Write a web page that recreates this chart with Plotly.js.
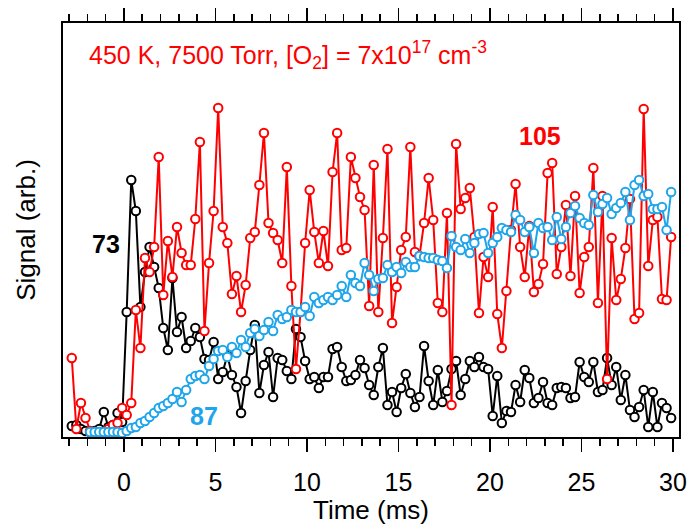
<!DOCTYPE html>
<html>
<head>
<meta charset="utf-8">
<script src="https://cdn.plot.ly/plotly-3.0.1.min.js"></script>
<style>html,body{margin:0;padding:0;background:#fff;}#chart{width:691px;height:525px;}</style>
</head>
<body>
<div id="chart"></div>
<script>
// Time axis (ms), shared by the three mass channels
const time = [
 -2.85,-2.6,-2.35,-2.1,-1.85,-1.6,-1.35,-1.1,-0.85,-0.6,
 -0.35,-0.1,0.15,0.4,0.65,0.9,1.15,1.4,1.65,1.9,
 2.15,2.4,2.65,2.9,3.15,3.4,3.65,3.9,4.15,4.4,
 4.65,4.9,5.15,5.4,5.65,5.9,6.15,6.4,6.65,6.9,
 7.15,7.4,7.65,7.9,8.15,8.4,8.65,8.9,9.15,9.4,
 9.65,9.9,10.15,10.4,10.65,10.9,11.15,11.4,11.65,11.9,
 12.15,12.4,12.65,12.9,13.15,13.4,13.65,13.9,14.15,14.4,
 14.65,14.9,15.15,15.4,15.65,15.9,16.15,16.4,16.65,16.9,
 17.15,17.4,17.65,17.9,18.15,18.4,18.65,18.9,19.15,19.4,
 19.65,19.9,20.15,20.4,20.65,20.9,21.15,21.4,21.65,21.9,
 22.15,22.4,22.65,22.9,23.15,23.4,23.65,23.9,24.15,24.4,
 24.65,24.9,25.15,25.4,25.65,25.9,26.15,26.4,26.65,26.9,
 27.15,27.4,27.65,27.9,28.15,28.4,28.65,28.9,29.15,29.4,
 29.65,29.9
];

// m/z 73 (black)
const signal73 = [
 11,12,8,6,5,6,8,25,10,12,
 24,15,125,257,226,130,165,190,170,149,
 109,87,159,105,120,89,96,109,100,78,
 77,95,58,65,82,62,50,24,56,87,
 112,44,72,85,40,79,77,66,58,108,
 100,76,58,60,49,60,60,88,90,70,
 56,57,62,77,69,52,42,70,89,32,
 45,25,49,63,44,30,40,91,56,32,
 67,35,46,68,76,42,58,76,70,80,
 70,68,21,61,14,26,25,52,35,67,
 59,34,39,55,34,32,49,50,49,39,
 40,75,60,55,75,45,47,79,52,70,
 37,62,27,20,30,47,10,45,10,34,
 29,19
];

// m/z 105 (red)
const signal105 = [
 79,8,34,19,6,5,4,5,8,12,
 14,29,22,34,127,89,179,165,190,280,
 142,196,160,210,184,172,172,218,295,106,
 174,226,329,210,194,143,161,125,152,199,
 205,252,304,214,204,197,174,270,151,68,
 125,194,247,205,174,206,171,265,304,187,
 189,280,259,240,227,131,272,125,199,288,
 114,150,187,200,290,185,181,214,259,217,
 134,125,224,32,293,228,239,249,200,124,
 180,160,230,123,89,146,207,253,190,160,
 211,145,153,173,264,274,163,190,232,161,
 241,144,180,190,269,134,241,58,199,137,
 158,189,238,118,124,328,171,217,220,138,
 137,200
];

// m/z 87 (blue)
const signal87 = [
 null,null,null,null,5,5,5,5,5,5,
 5,4,6,9,10,14,16,20,24,29,
 31,34,38,45,35,47,58,61,62,58,
 71,78,86,87,80,90,84,97,90,104,
 108,101,107,115,106,122,118,120,127,125,
 125,130,121,140,134,137,140,137,142,151,
 140,162,154,151,174,162,146,158,159,172,
 165,170,164,175,170,170,181,180,179,179,
 177,176,169,201,190,187,198,184,194,203,
 204,184,194,200,209,207,205,222,217,205,
 210,184,214,209,210,197,220,198,210,224,
 231,219,214,212,242,225,233,239,223,229,
 234,245,217,252,257,241,243,228,228,230,
 207,245
];

const seriesNames = ["73", "105", "87"];
const seriesColors = ["#000000", "#ff0000", "#1ea5ea"];
const xTickVals = [0, 5, 10, 15, 20, 25, 30];
const titleText = "450 K, 7500 Torr, [O<sub>2</sub>] = 7x10<sup>17</sup> cm<sup>-3</sup>";

const FONT = "Liberation Sans, Arial, sans-serif";

function trace(y, i) {
  return {
    x: time, y: y, type: "scatter", mode: "lines+markers",
    name: seriesNames[i], connectgaps: false,
    line: {color: seriesColors[i], width: 2},
    marker: {symbol: "circle", size: 8.5, color: "#ffffff",
             line: {color: seriesColors[i], width: 2}},
    cliponaxis: true
  };
}

const data = [trace(signal73, 0), trace(signal105, 1), trace(signal87, 2)];

const layout = {
  width: 691, height: 525,
  margin: {l: 63, r: 12, t: 23, b: 88, pad: 0},
  paper_bgcolor: "#ffffff", plot_bgcolor: "#ffffff",
  showlegend: false,
  font: {family: FONT, color: "#000000"},
  xaxis: {
    range: [-3.33, 30.33], tickvals: xTickVals, ticktext: xTickVals.map(String),
    ticks: "outside", ticklen: 13, tickwidth: 1.5, tickcolor: "#000",
    ticklabelstandoff: 9,
    minor: {dtick: 1, tick0: 0, ticks: "outside", ticklen: 7, tickwidth: 1.5, tickcolor: "#000", showgrid: false},
    showline: true, linewidth: 2, linecolor: "#000", mirror: "ticks",
    showgrid: false, zeroline: false,
    tickfont: {family: FONT, size: 25, color: "#000"},
    title: {text: "Time (ms)", font: {family: FONT, size: 26, color: "#000"}, standoff: 2}
  },
  yaxis: {
    range: [0, 414], showticklabels: false, ticks: "",
    showline: true, linewidth: 2, linecolor: "#000", mirror: true,
    showgrid: false, zeroline: false,
    title: {text: "Signal (arb.)", font: {family: FONT, size: 26, color: "#000"}, standoff: 18}
  },
  annotations: [
    {xref: "paper", yref: "paper", x: 0.039, y: 0.923, xanchor: "left", yanchor: "middle",
     text: titleText, showarrow: false, font: {family: FONT, size: 25, color: seriesColors[1]}},
    {xref: "x", yref: "y", x: -1.0, y: 193, text: "<b>" + seriesNames[0] + "</b>", showarrow: false,
     font: {family: FONT, size: 25, color: seriesColors[0]}},
    {xref: "x", yref: "y", x: 22.73, y: 301, text: "<b>" + seriesNames[1] + "</b>", showarrow: false,
     font: {family: FONT, size: 25, color: seriesColors[1]}},
    {xref: "x", yref: "y", x: 4.37, y: 21, text: "<b>" + seriesNames[2] + "</b>", showarrow: false,
     font: {family: FONT, size: 25, color: seriesColors[2]}}
  ]
};

Plotly.newPlot("chart", data, layout, {staticPlot: true, displayModeBar: false});
</script>
</body>
</html>
